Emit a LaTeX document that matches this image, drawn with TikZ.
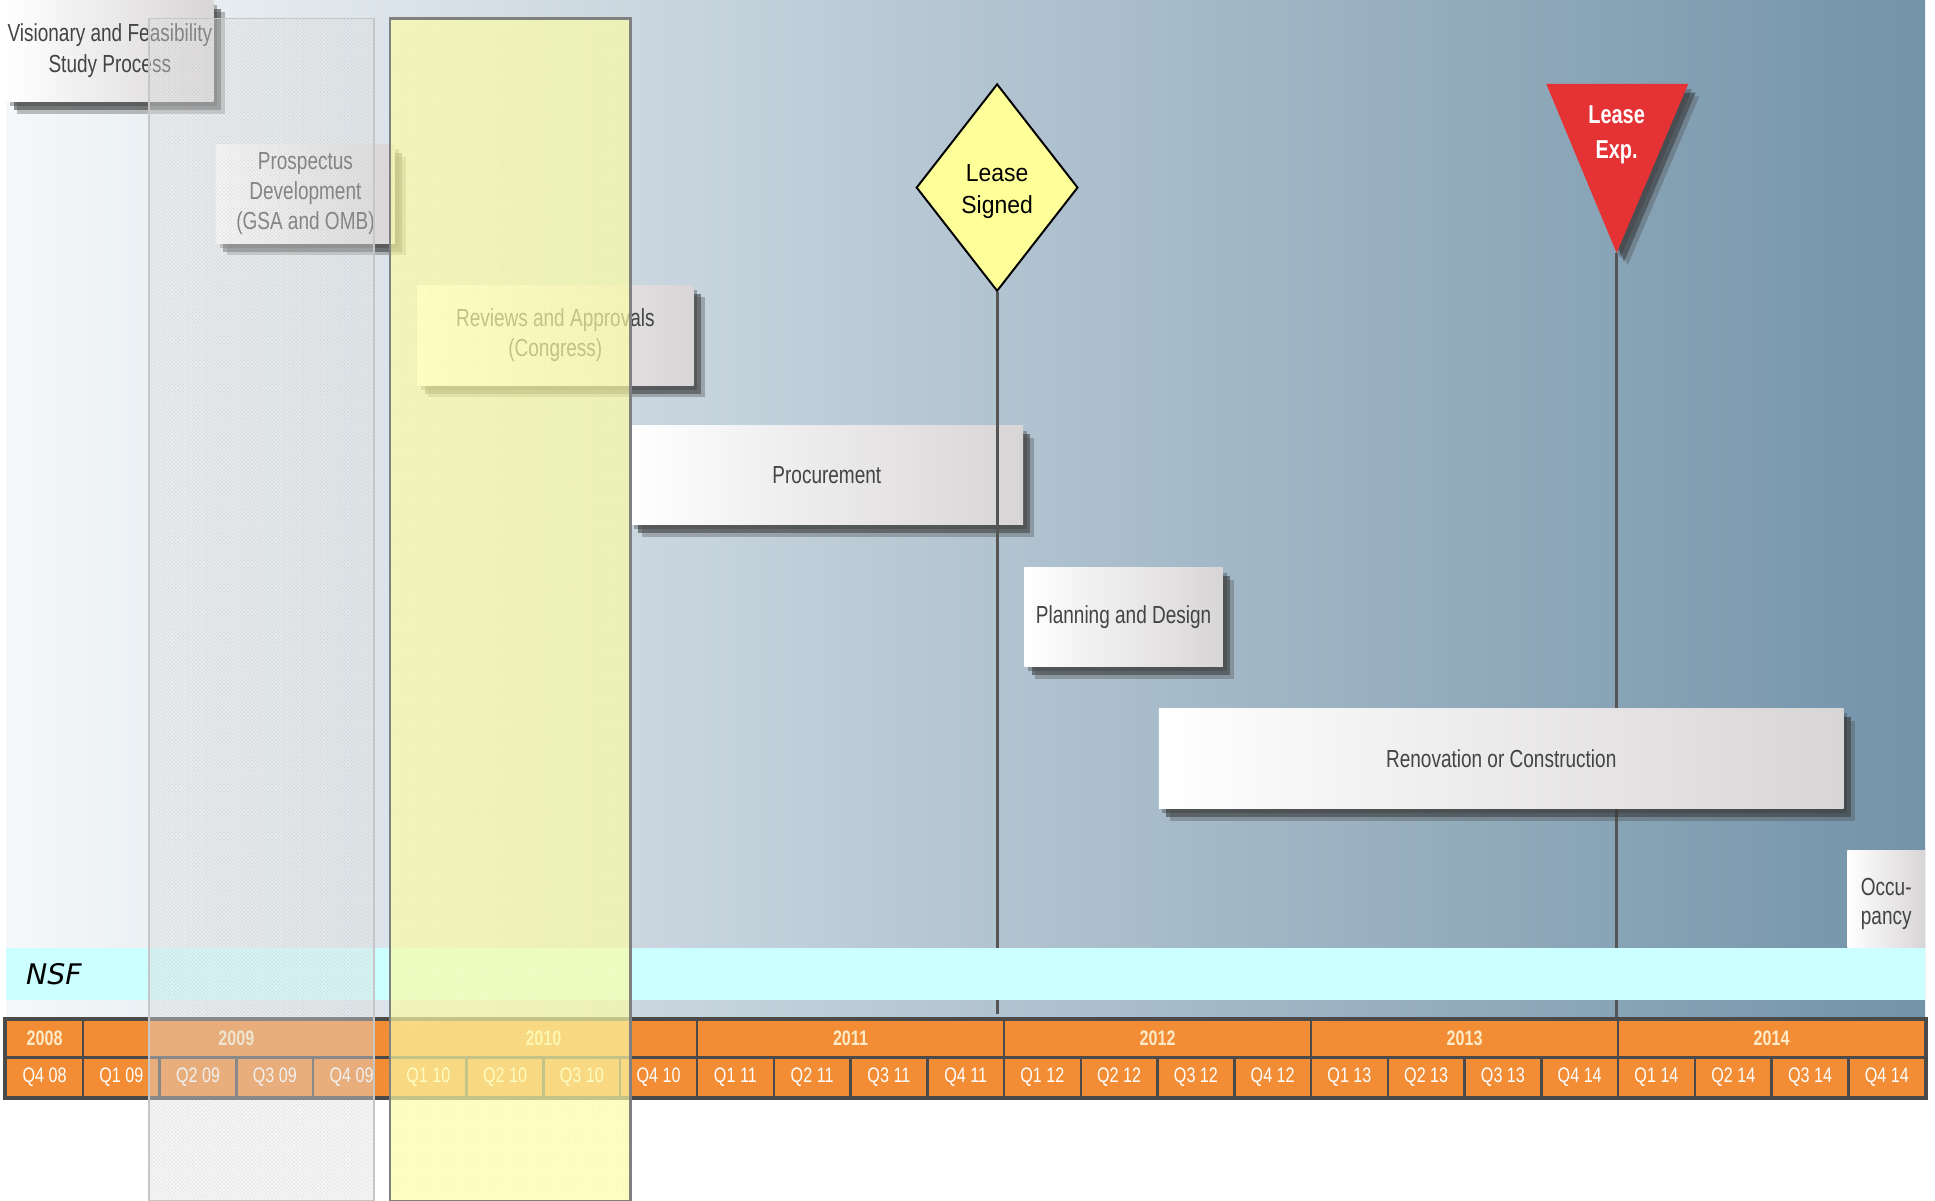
\documentclass[tikz,border=0pt]{standalone}
\usepackage{fontspec}
\setmainfont{Liberation Sans}
\newfontfamily\narrowfont{Liberation Sans}[FakeStretch=0.77]
\newfontfamily\signfont{Liberation Sans}[FakeStretch=0.93]
\newfontfamily\nsffont{DejaVu Sans}
\usetikzlibrary{shapes.geometric,shadows,patterns}

\definecolor{bgleft}{HTML}{F5F8FA}
\definecolor{bgmid}{HTML}{B9CCDA}
\definecolor{bgright}{HTML}{7393A9}
\definecolor{barorange}{HTML}{F28C35}
\definecolor{gridline}{HTML}{4A4A4A}
\definecolor{nsfcyan}{HTML}{CCFFFF}
\definecolor{signyellow}{HTML}{FFFF99}
\definecolor{expred}{HTML}{E43235}
\definecolor{boxgrey}{HTML}{D8D5D6}
\definecolor{boxtext}{HTML}{444444}
\definecolor{yeartext}{HTML}{FCEBC6}
\definecolor{stemgrey}{HTML}{555555}
\definecolor{yellowveil}{HTML}{FFFFAA}
\definecolor{veilborder}{HTML}{808080}

\begin{document}
\begin{tikzpicture}[x=1pt, y=-1pt,
    softshadow/.style={drop shadow={shadow xshift=3pt, shadow yshift=-4pt, fill=black!80, opacity=.35},
      drop shadow={shadow xshift=6pt, shadow yshift=-7pt, fill=black!85, opacity=.5},
      drop shadow={shadow xshift=9pt, shadow yshift=-10pt, fill=black!70, opacity=.35}},
    taskbox/.style={rectangle, left color=white, right color=boxgrey, inner sep=0pt, align=center,
      text=boxtext, font=\narrowfont\fontsize{20}{24.5}\selectfont},
    task/.style={taskbox, softshadow},
    ycell/.style={rectangle, draw=gridline, line width=2pt, fill=barorange, minimum height=31pt, inner sep=0pt,
      text=yeartext, font=\narrowfont\bfseries\fontsize{17}{20}\selectfont},
    qcell/.style={rectangle, draw=gridline, line width=2pt, fill=barorange, minimum width=62.2pt, minimum height=32pt,
      inner sep=0pt, text=white, font=\narrowfont\fontsize{17}{20}\selectfont},
    milestone/.style={line width=2.5pt, draw=stemgrey}]

  \useasboundingbox (0,0) rectangle (1568,973);
  \shade[left color=bgleft, middle color=bgmid, right color=bgright] (5,0) rectangle (1560,826);

  % phases
  \node[task, minimum width=168, minimum height=82] (visionary) at (89,41) {Visionary and Feasibility\\Study Process};
  \node[task, minimum width=145, minimum height=80] (prospectus) at (247.5,157) {Prospectus\\Development\\(GSA and OMB)};
  \node[task, minimum width=224, minimum height=81] (reviews) at (450,271.5) {Reviews and Approvals\\(Congress)};
  \node[task, minimum width=318, minimum height=80] (procurement) at (670,385) {Procurement};

  % lease signed
  \node[diamond, draw=black, line width=1.6pt, fill=signyellow, minimum width=131, minimum height=168, inner sep=0pt] (signed) at (808,152) {};
  \node[align=center, font=\signfont\fontsize{20}{26}\selectfont] (signedtext) at ([yshift=-3.5pt]signed.center) {Lease\\Signed};
  \coordinate (signedend) at (808,822);
  \draw[milestone] (signed.south) -- (signedend);

  \node[task, minimum width=161, minimum height=80] (planning) at (910.5,500) {Planning and Design};

  % lease expiry
  \fill[expred, softshadow] (1253,68) -- (1368,68) -- (1310,205) -- cycle;
  \node[text=white, align=center, font=\narrowfont\bfseries\fontsize{21}{28}\selectfont] (expiry) at (1310,109) {Lease\\Exp.};
  \coordinate (expapex) at (1310,205);
  \coordinate (expend) at (1310,826);
  \draw[milestone] (expapex) -- (expend);

  \node[task, minimum width=555, minimum height=81] (renovation) at (1216.5,614.5) {Renovation or Construction};
  \node[taskbox, minimum width=63, minimum height=79] (occupancy) at (1528.5,728.5) {};
  \node[align=center, text=boxtext, font=\narrowfont\fontsize{20}{24}\selectfont] (occtext) at ([yshift=-4pt]occupancy.center) {Occu-\\pancy};

  % NSF band
  \fill[nsfcyan] (5,768) rectangle (1560,810);
  \node[font=\nsffont\itshape\fontsize{23}{26}\selectfont, anchor=west, inner sep=0pt] (nsf) at (21,789) {NSF};

  % timeline
  \foreach \s/\n/\yr in {0/1/2008, 1/4/2009, 5/4/2010, 9/4/2011, 13/4/2012, 17/4/2013, 21/4/2014}
    \node[ycell, minimum width={62.2*\n}] (y\yr) at ({5+62.2*(\s+\n/2)},841.5) {\yr};
  \foreach \q [count=\i from 0] in {Q4 08,Q1 09,Q2 09,Q3 09,Q4 09,Q1 10,Q2 10,Q3 10,Q4 10,Q1 11,Q2 11,Q3 11,Q4 11,
      Q1 12,Q2 12,Q3 12,Q4 12,Q1 13,Q2 13,Q3 13,Q4 14,Q1 14,Q2 14,Q3 14,Q4 14}
    \node[qcell] (q\i) at ({5+62.2*(\i+0.5)},873) {\q};
  \draw[gridline, line width=2.5pt] (y2008.north west) rectangle (q24.south east);

  % highlighted periods
  \fill[gray!20, opacity=.4] (121,15) rectangle (303,973);
  \fill[pattern=crosshatch dots, pattern color=gray!80, opacity=.3] (121,15) rectangle (303,973);
  \draw[gray!45, line width=1.5pt] (121,15) rectangle (303,973);
  \fill[yellowveil, opacity=.68] (316,15) rectangle (511,973);
  \fill[pattern=crosshatch dots, pattern color=yellow!50!gray, opacity=.2] (316,15) rectangle (511,973);
  \draw[veilborder, line width=2pt] (316,15) rectangle (511,973);
\end{tikzpicture}
\end{document}
